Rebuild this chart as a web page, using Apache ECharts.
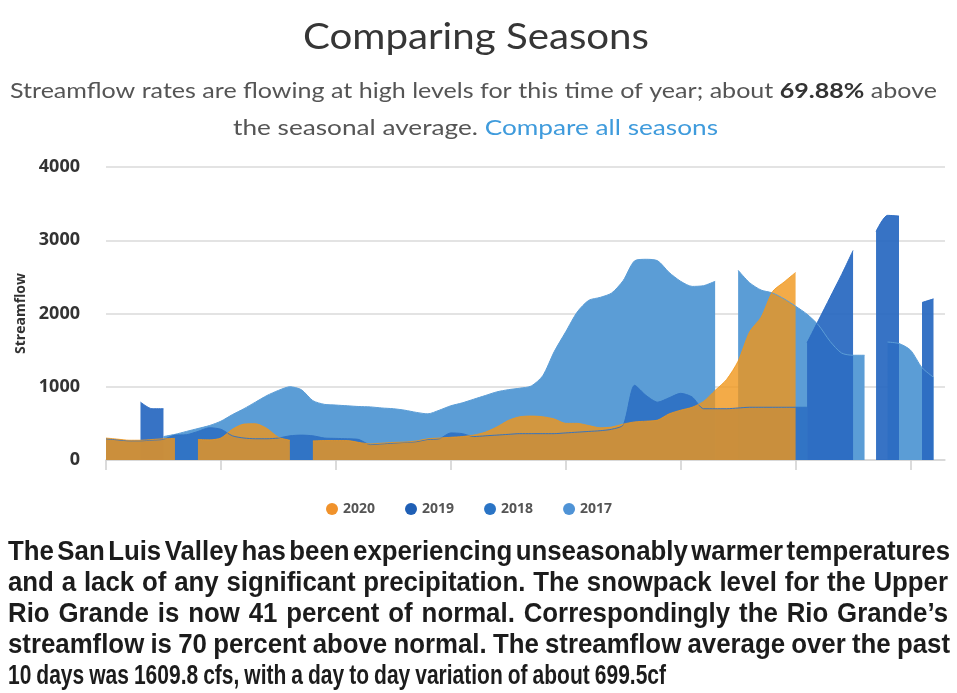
<!DOCTYPE html>
<html><head><meta charset="utf-8">
<script src="https://cdn.jsdelivr.net/npm/echarts@6/dist/echarts.min.js"></script>
<style>html,body{margin:0;padding:0;background:#fff}#c{width:957px;height:693px}</style>
</head><body><div id="c"></div>
<script>
// ---- data (daily values, null = no data) ----
const days = Array.from({length: 74}, (_, i) => 'Day ' + (i + 1));
const seriesNames = ['2020', '2019', '2018', '2017'];
const yTicks = [0, 1000, 2000, 3000, 4000];

const s2020 = [300,285,270,270,280,290,295,null,280,275,300,420,490,495,430,310,270,null,
  260,265,265,265,240,220,230,240,245,260,290,300,310,320,340,380,450,540,590,600,590,560,
  500,500,470,440,450,490,520,530,545,630,680,720,800,950,1100,1350,1750,1950,2300,2430,2560,
  null,null,null,null,null,null,null,null,null,null,null,null,null];

const s2019 = [null,null,null,790,700,700,null,null,null,null,null,null,null,null,null,null,
  null,null,null,null,null,null,null,null,null,null,null,null,null,null,null,null,null,null,
  null,null,null,null,null,null,null,null,null,null,null,null,null,null,null,null,null,null,
  null,null,null,null,null,null,null,null,null,1600,1910,2220,2530,2860,null,3120,3340,3330,
  null,2150,2200,null];

const s2018 = [290,275,262,262,272,282,340,345,390,440,420,330,300,290,290,300,330,340,
  330,300,295,290,280,210,220,230,240,250,280,290,370,360,320,330,340,350,360,360,360,360,
  370,380,390,400,420,480,1020,880,790,850,910,860,700,700,700,710,720,720,720,720,720,720,
  null,null,null,null,null,null,null,null,null,null,null,null];

const s2017 = [null,null,null,null,null,320,350,390,430,470,530,620,700,790,880,950,1000,960,
  810,760,750,740,730,725,710,700,680,650,630,680,740,780,830,880,930,960,980,1010,1150,1480,
  1750,2020,2180,2220,2280,2450,2720,2740,2720,2560,2440,2370,2380,2440,null,2590,2420,2320,
  2280,2200,2100,1990,1840,1620,1460,1430,1430,null,1610,1590,1500,1260,1130,null];

// ---- texts ----
const titleText = 'Comparing Seasons';
const sub1a = 'Streamflow rates are flowing at high levels for this time of year; about ';
const sub1b = '69.88%';
const sub1c = ' above';
const sub2a = 'the seasonal average. ';
const sub2b = 'Compare all seasons';
const caption = [
  'The San Luis Valley has been experiencing unseasonably warmer temperatures',
  'and a lack of any significant precipitation. The snowpack level for the Upper',
  'Rio Grande is now 41 percent of normal.  Correspondingly the Rio Grande\u2019s',
  'streamflow is 70 percent above normal.  The streamflow average over the past',
  '10 days was 1609.8 cfs, with a day to day variation of about 699.5cf'
];

// ---- measuring helper for fitting text widths ----
const ctx = document.createElement('canvas').getContext('2d');
function tw(font, t) { ctx.font = font; return ctx.measureText(t).width; }

const TF = 'Lato, "Open Sans", sans-serif';
const titleScale = 346 / tw('36px ' + TF, titleText);
const sub1W = tw('21px ' + TF, sub1a) + tw('bold 21px ' + TF, sub1b) + tw('21px ' + TF, sub1c);
const sub1Scale = 927 / sub1W;
const sub2W = tw('21px ' + TF, sub2a) + tw('21px ' + TF, sub2b);
const sub2Scale = 485 / sub2W;

const graphics = [
  {type: 'text', x: 476, y: 37, scaleX: titleScale,
   style: {text: titleText, fontFamily: TF, fontSize: 36, fill: '#363636', textAlign: 'center', textVerticalAlign: 'middle'}},
  {type: 'text', x: 473.5, y: 91, scaleX: sub1Scale,
   style: {text: '{a|' + sub1a + '}{b|' + sub1b + '}{a|' + sub1c + '}', textAlign: 'center', textVerticalAlign: 'middle',
     rich: {a: {fontFamily: TF, fontSize: 21, fill: '#555555', color: '#555555'},
            b: {fontFamily: TF, fontSize: 21, fontWeight: 'bold', fill: '#333333', color: '#333333'}}}},
  {type: 'text', x: 475.5, y: 128, scaleX: sub2Scale,
   style: {text: '{a|' + sub2a + '}{c|' + sub2b + '}', textAlign: 'center', textVerticalAlign: 'middle',
     rich: {a: {fontFamily: TF, fontSize: 21, fill: '#555555', color: '#555555'},
            c: {fontFamily: TF, fontSize: 21, fill: '#3f9bdc', color: '#3f9bdc'}}}}
];

// caption: condensed bold text, lines 1-4 justified word by word
const CF = '"Liberation Sans", Arial, sans-serif';
const capFont = 'bold 28px ' + CF;
const capLeft = 8;
const capTargets = [942, 940, 940, 942];
const lastTarget = 658;
const capY = [552, 583, 614, 645, 676];
const words1 = caption[0].split(' ').filter(w => w.length);
const words1W = words1.reduce((a, w) => a + tw(capFont, w), 0);
const sc = (capTargets[0] - (words1.length - 1) * 3.5) / words1W;
caption.forEach((line, i) => {
  const words = line.split(' ').filter(w => w.length);
  const rawW = words.reduce((a, w) => a + tw(capFont, w), 0);
  let s = sc, gap;
  if (i < capTargets.length) {
    gap = (capTargets[i] - rawW * s) / (words.length - 1);
  } else {
    gap = 5;
    s = (lastTarget - gap * (words.length - 1)) / rawW;
  }
  let x = capLeft;
  words.forEach(w => {
    graphics.push({type: 'text', x: x, y: capY[i], scaleX: s,
      style: {text: w, font: capFont, fill: '#1c1c1c', textAlign: 'left', textVerticalAlign: 'middle'}});
    x += tw(capFont, w) * s + gap;
  });
});

function mk(name, data, legendColor, areaColor, opacity) {
  return {
    name: name, type: 'line', data: data, smooth: 0.25, symbol: 'none', connectNulls: false,
    color: legendColor,
    lineStyle: {width: 1, color: areaColor, opacity: opacity},
    areaStyle: {color: areaColor, opacity: opacity},
    emphasis: {disabled: true}
  };
}

const chart = echarts.init(document.getElementById('c'), null, {renderer: 'canvas'});
chart.setOption({
  animation: false,
  grid: {left: 106, right: 12, top: 167, bottom: 233},
  xAxis: {
    type: 'category', data: days, boundaryGap: false,
    axisLine: {lineStyle: {color: '#d6d6d6', width: 1.5}},
    axisTick: {show: true, interval: 9, length: 10, lineStyle: {color: '#d0d0d0', width: 1.5}},
    axisLabel: {show: false}, splitLine: {show: false}
  },
  yAxis: {
    type: 'value', min: yTicks[0], max: yTicks[yTicks.length - 1], interval: 1000,
    name: 'Streamflow', nameLocation: 'middle', nameGap: 78,
    nameTextStyle: {fontFamily: '"Open Sans", sans-serif', fontWeight: 'bold', fontSize: 14, color: '#333'},
    axisLabel: {fontFamily: '"Open Sans", sans-serif', fontWeight: 'bold', fontSize: 18, color: '#333', margin: 26,
      formatter: v => String(v)},
    axisLine: {show: false}, axisTick: {show: false},
    splitLine: {lineStyle: {color: '#dadada', width: 1.5}}
  },
  legend: {
    data: seriesNames, left: 321, top: 497, icon: 'circle',
    itemWidth: 12, itemHeight: 12, itemGap: 30,
    textStyle: {fontFamily: '"Open Sans", sans-serif', fontWeight: 'bold', fontSize: 14, color: '#555'}
  },
  graphic: graphics,
  series: [
    mk('2017', s2017, '#4f93d6', '#5b9dd6', 1),
    mk('2018', s2018, '#2a74c5', '#2f72c4', 0.95),
    mk('2019', s2019, '#1f5fb5', '#2c6cc2', 0.95),
    mk('2020', s2020, '#f0922b', '#f0961a', 0.8)
  ]
});
</script></body></html>
